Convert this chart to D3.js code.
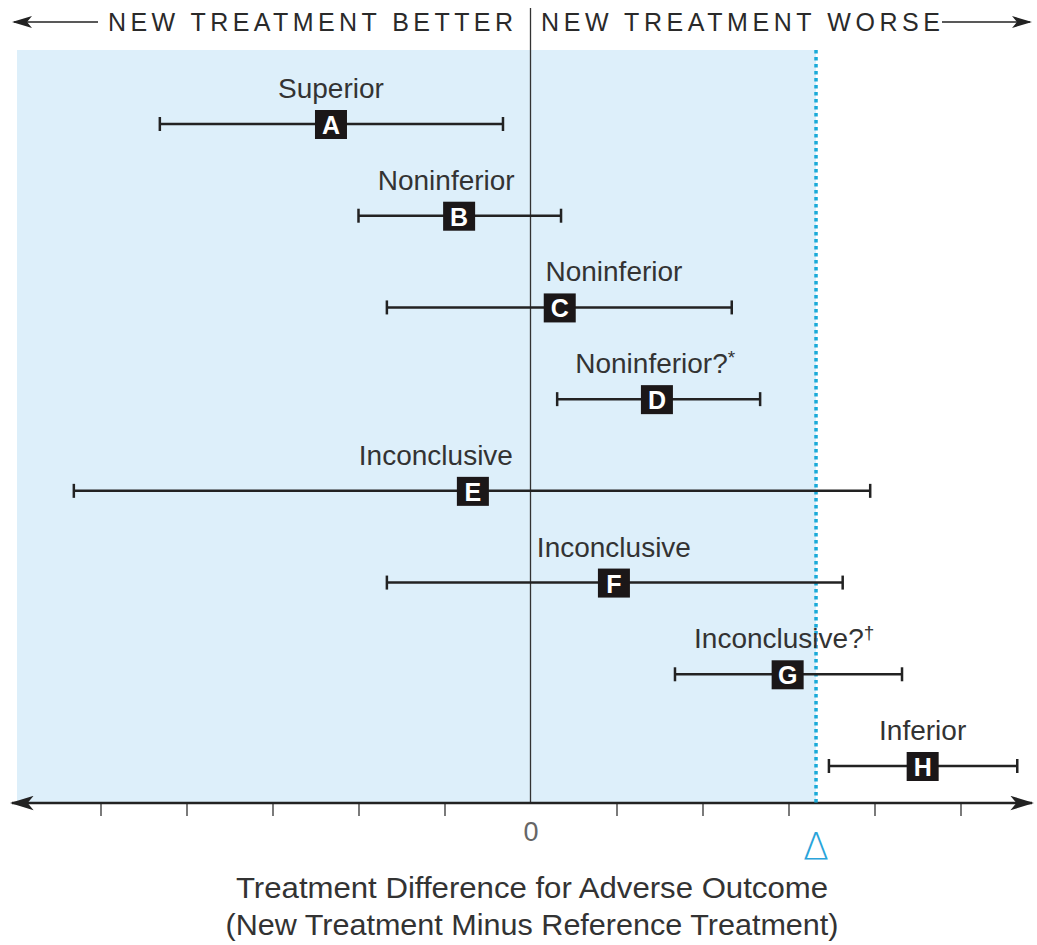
<!DOCTYPE html>
<html>
<head>
<meta charset="utf-8">
<script src="https://cdn.jsdelivr.net/npm/d3@7"></script>
<style>
  body { margin: 0; background: #fff; }
  svg { display: block; }
</style>
</head>
<body>
<div id="chart"></div>
<script>
// trial letters, top to bottom
var trials = ["A", "B", "C", "D", "E", "F", "G", "H"];
// point estimate and confidence interval (treatment difference units)
var estimate = [-2.32, -0.83, 0.34, 1.47, -0.67, 0.97, 2.99, 4.56];
var lower    = [-4.31, -2.00, -1.67, 0.31, -5.31, -1.67, 1.68, 3.47];
var upper    = [-0.32, 0.355, 2.34, 2.67, 3.95, 3.63, 4.32, 5.66];
// conclusion labels and where they sit along the axis
var verdict  = ["Superior", "Noninferior", "Noninferior", "Noninferior?", "Inconclusive", "Inconclusive", "Inconclusive?", "Inferior"];
var note     = ["", "", "", "*", "", "", "\u2020", ""];
var labelAt  = [-2.32, -0.98, 0.97, 1.45, -1.1, 0.97, 2.95, 4.56];
var tickVals = [-5, -4, -3, -2, -1, 0, 1, 2, 3, 4, 5];
var delta = 3.32;

var width = 1037, height = 945;
var axisY = 803, topY = 50;

var svg = d3.select("#chart").append("svg")
  .attr("width", width)
  .attr("height", height);

var x = d3.scaleLinear().domain([-5, 5]).range([100.5, 960.5]);
var y = d3.scalePoint().domain(trials).range([124, 766]);

var rows = trials.map(function(t, i) {
  return {id: t, est: estimate[i], lo: lower[i], hi: upper[i], label: verdict[i], note: note[i], lx: labelAt[i]};
});

// arrowhead markers
var defs = svg.append("defs");
function arrowDef(id, w, h) {
  defs.append("marker")
    .attr("id", id)
    .attr("viewBox", "0 0 20 12")
    .attr("refX", 18).attr("refY", 6)
    .attr("markerWidth", w).attr("markerHeight", h)
    .attr("markerUnits", "userSpaceOnUse")
    .attr("orient", "auto")
    .append("path")
    .attr("d", "M0,0 L20,6 L0,12 L5,6 Z")
    .attr("fill", "#222");
}
arrowDef("arrow", 20, 12);
arrowDef("arrowBig", 24, 15);

// shaded noninferiority zone
svg.append("rect")
  .attr("x", 17)
  .attr("y", topY)
  .attr("width", x(delta) - 17)
  .attr("height", axisY - topY)
  .attr("fill", "#ddeffa");

// zero line
svg.append("line")
  .attr("x1", x(0)).attr("x2", x(0))
  .attr("y1", 8).attr("y2", axisY)
  .attr("stroke", "#333")
  .attr("stroke-width", 1.3);

// header
var hdrY = 22;
svg.append("line")
  .attr("x1", 98).attr("x2", 14)
  .attr("y1", hdrY).attr("y2", hdrY)
  .attr("stroke", "#222").attr("stroke-width", 1.6)
  .attr("marker-end", "url(#arrow)");
svg.append("line")
  .attr("x1", 942).attr("x2", 1030)
  .attr("y1", hdrY).attr("y2", hdrY)
  .attr("stroke", "#222").attr("stroke-width", 1.6)
  .attr("marker-end", "url(#arrow)");
svg.append("text")
  .attr("x", 108).attr("y", 31)
  .attr("textLength", 405)
  .attr("lengthAdjust", "spacing")
  .style("font", "25px 'Liberation Sans', Arial, sans-serif")
  .attr("fill", "#2a2a2a")
  .text("NEW TREATMENT BETTER");
svg.append("text")
  .attr("x", 541).attr("y", 31)
  .attr("textLength", 399)
  .attr("lengthAdjust", "spacing")
  .style("font", "25px 'Liberation Sans', Arial, sans-serif")
  .attr("fill", "#2a2a2a")
  .text("NEW TREATMENT WORSE");

// x axis
var xAxis = d3.axisBottom(x)
  .tickValues(tickVals)
  .tickSize(13)
  .tickFormat(function(d) { return d === 0 ? "0" : ""; });

var gx = svg.append("g")
  .attr("transform", "translate(0," + axisY + ")")
  .call(xAxis);
gx.select(".domain").remove();
gx.selectAll(".tick line")
  .attr("stroke", "#333")
  .attr("stroke-width", 1.3)
  .attr("opacity", function(d) { return d === 0 ? 0 : 1; });
gx.selectAll(".tick text")
  .attr("y", 14)
  .attr("dy", "0.9em")
  .style("font", "27px 'Liberation Sans', Arial, sans-serif")
  .attr("fill", "#666");

svg.append("line")
  .attr("x1", 531).attr("x2", 12)
  .attr("y1", axisY).attr("y2", axisY)
  .attr("stroke", "#222").attr("stroke-width", 2.4)
  .attr("marker-end", "url(#arrowBig)");
svg.append("line")
  .attr("x1", 531).attr("x2", 1032)
  .attr("y1", axisY).attr("y2", axisY)
  .attr("stroke", "#222").attr("stroke-width", 2.4)
  .attr("marker-end", "url(#arrowBig)");

// margin line
svg.append("line")
  .attr("x1", x(delta)).attr("x2", x(delta))
  .attr("y1", topY).attr("y2", axisY)
  .attr("stroke", "#1aaad8")
  .attr("stroke-width", 3.5)
  .attr("stroke-dasharray", "3.5,3.5");

svg.append("text")
  .attr("x", x(delta)).attr("y", 859)
  .attr("text-anchor", "middle")
  .style("font", "38px 'DejaVu Sans', sans-serif")
  .style("font-weight", 200)
  .attr("fill", "#2aa4da")
  .text("\u0394");

// intervals
var row = svg.selectAll("g.row")
  .data(rows)
  .enter().append("g")
  .attr("class", "row")
  .attr("transform", function(d) { return "translate(0," + y(d.id) + ")"; });

row.append("line")
  .attr("x1", function(d) { return x(d.lo); })
  .attr("x2", function(d) { return x(d.hi); })
  .attr("stroke", "#222").attr("stroke-width", 2.5);
row.append("line")
  .attr("x1", function(d) { return x(d.lo); })
  .attr("x2", function(d) { return x(d.lo); })
  .attr("y1", -7).attr("y2", 7)
  .attr("stroke", "#222").attr("stroke-width", 2.5);
row.append("line")
  .attr("x1", function(d) { return x(d.hi); })
  .attr("x2", function(d) { return x(d.hi); })
  .attr("y1", -7).attr("y2", 7)
  .attr("stroke", "#222").attr("stroke-width", 2.5);

row.append("rect")
  .attr("x", function(d) { return x(d.est) - 16; })
  .attr("y", -14)
  .attr("width", 32).attr("height", 29)
  .attr("fill", "#1b1718");
row.append("text")
  .attr("x", function(d) { return x(d.est); })
  .attr("y", 10)
  .attr("text-anchor", "middle")
  .style("font", "bold 25px 'Liberation Sans', Arial, sans-serif")
  .attr("fill", "#fff")
  .text(function(d) { return d.id; });

var lbl = row.append("text")
  .attr("x", function(d) { return x(d.lx); })
  .attr("y", -26)
  .attr("text-anchor", "middle")
  .style("font", "28px 'Liberation Sans', Arial, sans-serif")
  .attr("fill", "#333");
lbl.append("tspan").text(function(d) { return d.label; });
lbl.append("tspan")
  .attr("dy", -9)
  .style("font-size", "19px")
  .text(function(d) { return d.note; });

// axis title
svg.append("text")
  .attr("x", 532).attr("y", 898)
  .attr("text-anchor", "middle")
  .attr("textLength", 592)
  .attr("lengthAdjust", "spacingAndGlyphs")
  .style("font", "29px 'Liberation Sans', Arial, sans-serif")
  .attr("fill", "#333")
  .text("Treatment Difference for Adverse Outcome");
svg.append("text")
  .attr("x", 532).attr("y", 935)
  .attr("text-anchor", "middle")
  .attr("textLength", 613)
  .attr("lengthAdjust", "spacingAndGlyphs")
  .style("font", "29px 'Liberation Sans', Arial, sans-serif")
  .attr("fill", "#333")
  .text("(New Treatment Minus Reference Treatment)");
</script>
</body>
</html>
